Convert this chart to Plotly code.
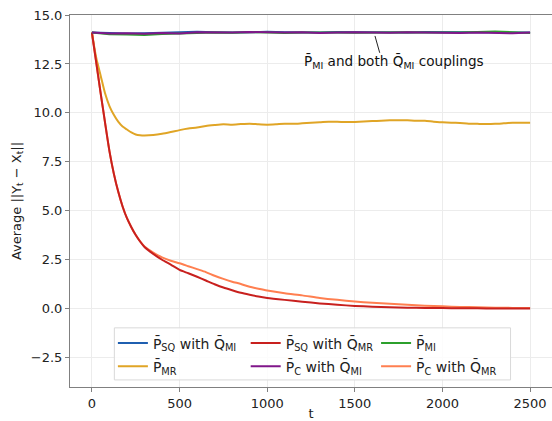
import plotly.graph_objects as go

# ---------------- data ----------------
t_top = [0, 100, 200, 300, 400, 500, 600, 700, 800, 900, 1000, 1100, 1200, 1300,
         1400, 1500, 1600, 1700, 1800, 1900, 2000, 2100, 2200, 2300, 2400, 2500]
p_sq_q_mi = [14.10, 14.08, 14.05, 14.07, 14.10, 14.13, 14.15, 14.12, 14.10, 14.12,
             14.14, 14.12, 14.10, 14.11, 14.13, 14.12, 14.10, 14.09, 14.11, 14.13,
             14.12, 14.10, 14.11, 14.09, 14.10, 14.11]
p_mi = [14.10, 14.02, 14.00, 13.98, 14.03, 14.06, 14.10, 14.11, 14.09, 14.12,
        14.10, 14.08, 14.11, 14.12, 14.10, 14.09, 14.11, 14.13, 14.12, 14.10,
        14.09, 14.11, 14.13, 14.16, 14.12, 14.08]
p_c_q_mi = [14.10, 14.05, 14.07, 14.04, 14.08, 14.06, 14.12, 14.10, 14.10, 14.13,
            14.11, 14.10, 14.12, 14.08, 14.10, 14.12, 14.10, 14.09, 14.12, 14.10,
            14.11, 14.08, 14.10, 14.09, 14.07, 14.11]

t_mr = [0, 25, 50, 75, 100, 125, 150, 175, 200, 225, 250, 275, 300, 350, 400, 450,
        500, 550, 600, 650, 700, 750, 800, 850, 900, 950, 1000, 1050, 1100, 1150,
        1200, 1250, 1300, 1350, 1400, 1450, 1500, 1550, 1600, 1650, 1700, 1750,
        1800, 1850, 1900, 1950, 2000, 2050, 2100, 2150, 2200, 2250, 2300, 2350,
        2400, 2450, 2500]
p_mr = [14.10, 12.80, 11.90, 11.00, 10.35, 9.90, 9.55, 9.30, 9.15, 9.00, 8.90, 8.86,
        8.85, 8.87, 8.93, 9.02, 9.12, 9.20, 9.25, 9.33, 9.38, 9.42, 9.40, 9.43,
        9.45, 9.42, 9.40, 9.42, 9.45, 9.44, 9.47, 9.50, 9.52, 9.55, 9.55, 9.53,
        9.54, 9.56, 9.58, 9.60, 9.62, 9.63, 9.62, 9.60, 9.60, 9.55, 9.52, 9.50,
        9.48, 9.45, 9.44, 9.43, 9.44, 9.47, 9.50, 9.50, 9.50]

t_dec = [0, 25, 50, 75, 100, 125, 150, 175, 200, 225, 250, 275, 300, 350, 400,
         450, 500, 550, 600, 650, 700, 750, 800, 850, 900, 950, 1000, 1100, 1200,
         1300, 1400, 1500, 1600, 1700, 1800, 1900, 2000, 2100, 2200, 2300, 2400, 2500]
p_sq_q_mr = [14.10, 12.55, 11.00, 9.50, 8.05, 6.90, 5.98, 5.22, 4.62, 4.16,
             3.76, 3.43, 3.15, 2.80, 2.50, 2.25, 1.98, 1.81, 1.63, 1.44, 1.25, 1.08,
             0.94, 0.81, 0.71, 0.62, 0.55, 0.45, 0.36, 0.27, 0.20, 0.14, 0.10, 0.07,
             0.05, 0.04, 0.03, 0.02, 0.02, 0.01, 0.01, 0.01]
p_c_q_mr = [14.10, 12.55, 11.00, 9.50, 8.05, 6.90, 5.98, 5.22, 4.62, 4.16,
            3.76, 3.44, 3.18, 2.87, 2.62, 2.45, 2.32, 2.17, 2.02, 1.87, 1.68, 1.52,
            1.38, 1.26, 1.12, 1.02, 0.93, 0.79, 0.68, 0.55, 0.45, 0.37, 0.30, 0.25,
            0.20, 0.15, 0.12, 0.09, 0.07, 0.05, 0.04, 0.03]

y_ticks = [-2.5, 0.0, 2.5, 5.0, 7.5, 10.0, 12.5, 15.0]
x_ticks = [0, 500, 1000, 1500, 2000, 2500]

FONT = "DejaVu Sans"
C_BLUE, C_GOLD, C_RED = "#1f5fb0", "#e0a526", "#c8201e"
C_PURPLE, C_GREEN, C_CORAL = "#80168a", "#2ca02c", "#ff7f50"

fig = go.Figure()

def add(x, y, name, color, legend, rank, smooth=False):
    fig.add_trace(go.Scatter(x=x, y=y, mode="lines", name=name, legend=legend,
                             legendrank=rank, legendgroup=name,
                             line=dict(color=color, width=2,
                                       shape="spline" if smooth else "linear",
                                       smoothing=0.6)))

add(t_mr, p_mr, "P̄<sub>MR</sub>", C_GOLD, "legend", 2, True)
add(t_dec, p_c_q_mr, "P̄<sub>C</sub> with Q̄<sub>MR</sub>", C_CORAL, "legend3", 2, True)
add(t_dec, p_sq_q_mr, "P̄<sub>SQ</sub> with Q̄<sub>MR</sub>", C_RED, "legend2", 1, True)
add(t_top, p_sq_q_mi, "P̄<sub>SQ</sub> with Q̄<sub>MI</sub>", C_BLUE, "legend", 1)
add(t_top, p_mi, "P̄<sub>MI</sub>", C_GREEN, "legend3", 1)
add(t_top, p_c_q_mi, "P̄<sub>C</sub> with Q̄<sub>MI</sub>", C_PURPLE, "legend2", 2)

leg_common = dict(bgcolor="rgba(0,0,0,0)", borderwidth=0,
                  font=dict(family=FONT, size=14, color="#222"),
                  xanchor="left", yanchor="top", traceorder="grouped",
                  tracegroupgap=2, itemwidth=30)
fig.update_layout(
    legend=dict(x=0.089, y=0.160, **leg_common),
    legend2=dict(x=0.3645, y=0.160, **leg_common),
    legend3=dict(x=0.635, y=0.160, **leg_common),
)

# legend frame
fig.add_shape(type="rect", xref="paper", yref="paper", x0=0.092, x1=0.914, y0=0.019, y1=0.159,
              line=dict(color="#d9d9d9", width=1), fillcolor="rgba(255,255,255,0.85)", layer="above")

# annotation
fig.add_shape(type="line", xref="x", yref="y", x0=1615, y0=13.93, x1=1642, y1=13.07,
              line=dict(color="#222", width=1))
fig.add_annotation(x=1725, y=(309 - 62) / 19.58, xref="x", yref="y", showarrow=False,
                   text="P̄<sub>MI</sub> and both Q̄<sub>MI</sub> couplings",
                   font=dict(family=FONT, size=13.6, color="#111"))

axis_common = dict(showline=True, linecolor="#808080", linewidth=1, mirror=True,
                   ticks="outside", ticklen=4, tickcolor="#808080",
                   showgrid=True, gridcolor="#ececec", gridwidth=1, zeroline=False,
                   automargin=False,
                   tickfont=dict(family=FONT, size=13, color="#222"))
fig.update_xaxes(range=[-125, 2625], tickvals=x_ticks,
                 title=dict(text="t", font=dict(family=FONT, size=13, color="#222"), standoff=6),
                 **axis_common)
fig.update_yaxes(range=[-4, 15], tickvals=y_ticks, tickformat=".1f",
                 title=dict(text="Average ||Y<sub>t</sub> − X<sub>t</sub>||",
                            font=dict(family=FONT, size=13, color="#222"), standoff=6),
                 **axis_common)

fig.update_layout(width=552, height=421, margin=dict(l=70, r=0, t=15, b=34),
                  plot_bgcolor="white", paper_bgcolor="white", showlegend=True,
                  font=dict(family=FONT, size=13))
fig.write_html("out.html")
